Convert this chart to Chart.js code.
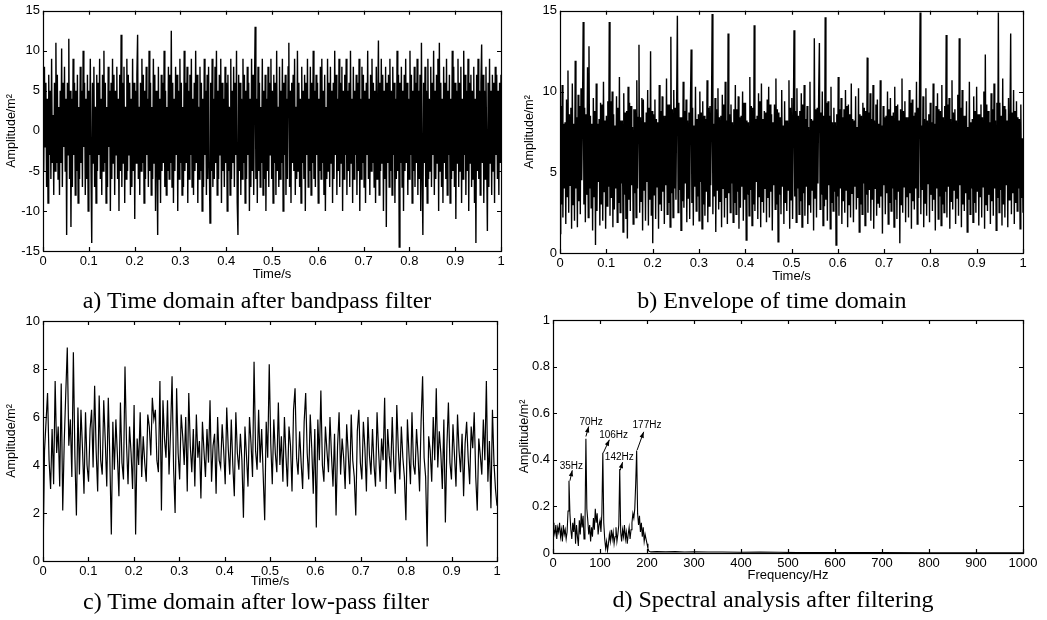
<!DOCTYPE html>
<html>
<head>
<meta charset="utf-8">
<script src="https://cdn.jsdelivr.net/npm/chart.js@4.4.0/dist/chart.umd.min.js"></script>
<style>
  body { margin: 0; background: #fff; }
  #page { position: relative; width: 1047px; height: 620px; overflow: hidden; background: #fff; }
  canvas { position: absolute; }
  .cap { position: absolute; width: 500px; text-align: center; white-space: nowrap;
         font-family: "Liberation Serif", "Times New Roman", serif; font-size: 24px; line-height: 24px; color: #000; }
</style>
</head>
<body>
<div id="page">
  <canvas id="ca" width="520" height="288" style="left:0;top:0"></canvas>
  <canvas id="cb" width="527" height="290" style="left:520px;top:0"></canvas>
  <canvas id="cc" width="520" height="300" style="left:0;top:300px"></canvas>
  <canvas id="cd" width="535" height="300" style="left:512px;top:300px"></canvas>
  <div class="cap" style="left:7px;top:288px">a) Time domain after bandpass filter</div>
  <div class="cap" style="left:522px;top:288px">b) Envelope of time domain</div>
  <div class="cap" style="left:6px;top:589px">c) Time domain after low-pass filter</div>
  <div class="cap" style="left:523px;top:587px">d) Spectral analysis after filtering</div>
</div>
<script>
// ---- data ----
// a) bandpass filtered signal, 0..1 s
const bandpass = [
  3, -5, 8, -2, 6, -7, 4, -9, 7, -3, 5, -6, 9, -4, 2, -8, 6, -5, 11, -4,
  7, -6, 3, -8, 5, -4, 10.3, -7, 6, -2, 8, -5, 4, -13, 6, -3, 11.5, -6, 5, -12,
  4, -7, 9, -3, 6, -8, 5, -5, 7, -9, 3, -6, 8, -4, 5, -7, 10, -2, 6, -8,
  4, -6, 7, -10, 5, -3, 9, -5, -14, 6, -4, 8, -7, 3, -9, 7, -5, 6, -3, 9,
  -6, 4, -8, 7, -5, 10, -4, 6, -9, 3, -7, 8, -2, 5, -10, 6, -6, 9, -4, 7,
  -8, 5, -3, 8, -6, 4, -10, 7, -5, 12, -7, 6, -4, 8, -9, 3, -6, 9, -5, 7,
  -3, 6, -8, 4, -7, 9, -5, 6, -11, 5, -4, 7, 12, -6, 3, -8, 6, -5, 9, -4,
  7, -9, 5, -6, 8, -3, 4, -7, 10, -5, 6, -8, 3, -6, 9, -4, 7, -10, 5, -3,
  -13, 8, -6, 4, -9, 7, -5, 6, -4, 10, -7, 5, -8, 3, -5, 8, -6, 7, -4, 12.5,
  -7, 6, -9, 4, -5, 8, -3, 7, -10, 5, -6, 9, -4, 6, -8, 3, -7, 10, -5, 6,
  -4, 8, -9, 5, -6, 7, -3, 9, -7, 4, -8, 6, -5, 10, -4, 7, -9, 3, -6, 8,
  -5, 6, -10, 4, -7, 9, -3, 5, -8, 7, -6, 8, -4, -11.5, 6, -5, 9, -7, 4, -6,
  8, -4, 10, -8, 5, -6, 7, -3, 9, -9, 6, -5, 4, -7, 8, -4, 6, -10, 7, -5,
  3, -8, 9, -6, 5, -4, 8, -7, 6, -3, 10, -9, -13, 7, -5, 6, -8, 4, -6, 9,
  -4, 7, -9, 5, -6, 8, -3, 6, -10, 4, -7, 9, -5, 7, -8, 5, 13, -6, 4, -9,
  8, -5, 6, -7, 3, -4, 9, -8, 5, -6, 7, -10, 4, -5, 8, -7, 6, -3, 9, -6,
  5, -9, 7, -4, 6, -8, 10, -5, 3, -7, 8, -6, 5, -4, 9, -10, 6, -3, 7, -8,
  4, -6, 8, 11, -7, 5, -9, 6, -4, 7, -5, 9, -8, 3, -6, 10, -5, 6, -7, 4,
  -9, 8, -4, 5, -6, 7, -10, 6, -3, 9, -7, 4, -5, 8, -8, 6, -4, 10, -6, 5,
  -7, 7, -3, 6, -9, 4, -5, 8, -6, 9, -4, 5, -8, 7, -10, 3, -6, 9, -5, 6,
  -7, 8, -4, 5, -9, 6, -6, 10, -3, 7, -8, 4, -5, 9, -7, 6, -4, 8, -10, 5,
  -6, 7, -3, 9, -8, 5, -5, 6, -7, 10, -4, 4, -9, 8, -6, 5, -3, 7, -8, 6,
  -5, 9, -10, 4, -6, 8, -4, 7, -7, 5, -9, 6, -3, 10, -6, 4, -8, 7, -5, 9,
  -4, 6, -7, 5, -9, 8, -6, 3, 11.3, -8, 6, -5, 9, -4, 7, -10, 5, -6, 8, -12,
  6, -4, 7, -7, 9, -5, 5, -8, 8, -3, 6, -9, 4, -6, 10, -5, 7, -14.5, 6, -4,
  8, -7, 5, -10, 7, -5, 9, -4, 6, -8, 4, -6, 10, -3, 7, -9, 5, -5, 8, -7,
  6, -4, 9, -8, 5, -6, 7, -10, 11, -5, -13, 6, -4, 8, -7, 5, -9, 9, -6, 4,
  -5, 8, -7, 6, -3, 10, -8, 5, -6, 7, -4, 9, -10, 11, -5, 6, -7, 4, -9, 8,
  -4, 6, -6, 9, -8, 5, -3, 7, -9, 4, -6, 10, -5, 8, -7, 6, -11, 5, -4, 9,
  -7, 6, -5, 8, -9, 4, -6, 10, -3, 7, -8, 5, -5, 9, -10, 6, -4, 7, -7, 5,
  -6, 8, -9, 4, -14, 7, -5, 9, -6, 5, -8, 6, 10.8, -4, 7, -9, 5, -6, 8, -3,
  -12.5, 6, -7, 9, -4, 5, -8, 7, -5, 6, -9, 8, -3, 7, -6, 5, -8, 6, -4, 7
];

// b) envelope of a)
const envelope = [
  1.2, 9.1, 3, 10.4, 2.2, 8, 4, 8.1, 1.8, 9.5, 3.5, 11.3, 2.5, 8.6, 4.2, 9, 1.5, 10.5, 3, 8,
  2, 11.9, 4, 8.4, 1.6, 9.8, 3.2, 9.1, 2.4, 10.2, 4.5, 8.3, 14.3, 3, 9, 1.9, 8.6, 3.6, 11.5, 2.2,
  12.8, 4, 8.5, 2.8, 8, 1.4, 9.6, 3.5, 8.8, 0.5, 10.5, 2.6, 8, 4.4, 8.3, 1.7, 9.3, 3, 9.2, 2,
  10.6, 3.8, 8.2, 1.5, 8.5, 2.9, 9.4, 4.1, 14.3, 2.3, 9.4, 3.4, 10, 1.6, 8.6, 2.7, 7.9, 4, 9.7, 1.9,
  9, 3.1, 10.9, 2.5, 8.2, 4.3, 8.2, 1.3, 9.9, 3.6, 8.7, 2.1, 8.8, 0.9, 10.3, 3.3, 9.3, 2.6, 9.1, 4.2,
  7.8, 1.8, 8.9, 3.7, 8.9, 2.2, 10.7, 4, 8.4, 12.9, 2.5, 8.4, 3.2, 9.6, 1.4, 9.5, 3.9, 8.1, 2, 8.7,
  4.4, 10.1, 1.7, 9, 3.3, 12.5, 2.3, 8.8, 0.6, 8.6, 3.6, 9.5, 2.1, 8.3, 4.1, 8.1, 1.5, 10.4, 3, 8.8,
  2.6, 9.7, 3.8, 8.5, 1.8, 8.5, 4.2, 10.8, 2.4, 9.2, 3.1, 9.2, 1.6, 13.4, 3.7, 8.9, 2.2, 10.1, 4, 9,
  3.3, 9.4, 14.7, 2.5, 9.3, 3.9, 8.4, 1.4, 8.4, 3.2, 10.6, 2.8, 8.8, 4.3, 9.5, 1.9, 8.2, 3.4, 8.7, 2.1,
  9.1, 12.6, 3.1, 9, 1.7, 7.9, 4.1, 10.3, 2.6, 8.3, 3.5, 8.6, 2, 10, 4.4, 8.7, 1.5, 9.4, 3, 8.5,
  2.3, 8.3, 3.8, 10.7, 1.9, 9, 2.9, 9.1, 4.2, 8.2, 14.8, 2.4, 8, 3.5, 9.6, 1.3, 8.9, 3.9, 10.2, 2.7,
  8.4, 3.2, 8.5, 1.6, 9.8, 4, 9.2, 2.2, 10.6, 3.4, 8.2, 1.8, 13.6, 3.7, 8.6, 2.5, 9.2, 4.3, 8.1, 1.9,
  8.9, 3.1, 10.4, 2.4, 8.9, 3.8, 9.7, 1.5, 8.4, 2.8, 8.5, 4.1, 10, 2, 9.3, 3.3, 9.3, 0.8, 8.2, 3.6,
  8.1, 2.3, 10.9, 3.9, 9.1, 1.7, 9, 3, 14.1, 2.6, 8.3, 4.4, 8.5, 2.1, 9.9, 3.5, 9.4, 1.6, 10.5, 3.2,
  8.3, 2.5, 8.8, 4, 8.7, 1.9, 9.5, 3.4, 10.3, 2.2, 9.2, 3.8, 8.6, 1.4, 8.1, 4.2, 9.2, 2.7, 10.8, 3,
  8.9, 0.7, 8.7, 3.6, 8.4, 2.4, 10.1, 4.1, 7.9, 1.8, 9.4, 3.1, 8.2, 2.6, 8.2, 3.9, 10.7, 1.5, 9, 3.3,
  9.6, 2.1, 8, 13.8, 3.5, 8.8, 1.9, 10.2, 4, 8.5, 2.4, 8.8, 3.2, 9.9, 1.6, 9.2, 3.7, 10.4, 2.3, 8.3,
  4.1, 9.1, 1.8, 7.8, 3, 10.6, 2.5, 8.3, 3.9, 8.2, 1.4, 13.3, 3.4, 8.9, 2.2, 9, 4.3, 9.8, 13, 2.7,
  8.7, 3.6, 10, 1.7, 8.5, 2.9, 14.6, 3.3, 9.3, 2, 9.4, 4.2, 8.5, 1.5, 10.3, 3.1, 8.1, 2.6, 9, 3.8,
  8.1, 0.5, 8.6, 3.5, 10.9, 2.3, 8.9, 4, 9.6, 1.8, 8.4, 3.2, 8.9, 2.5, 10.1, 3.9, 9.1, 1.6, 9.2, 3,
  8.6, 2.2, 10.5, 3.7, 8.3, 1.9, 8.2, 4.1, 9.7, 2.7, 7.8, 3.4, 10.2, 1.3, 8.6, 3, 8.5, 2.4, 9.3, 4.3,
  9, 1.7, 8.8, 3.6, 12.1, 2.5, 8.7, 3.9, 9.9, 2, 8.3, 3.3, 10.4, 1.5, 8.2, 4, 9.2, 2.3, 9.5, 3.1,
  8, 2.8, 10.7, 3.5, 7.9, 1.2, 9.1, 4.2, 8.4, 2.4, 8.5, 3.7, 10, 1.8, 8.9, 3.1, 9.6, 2.6, 8.5, 4,
  8.7, 1.6, 10.3, 3.3, 9.1, 2.1, 9.2, 3.8, 8.2, 0.6, 8.9, 3, 10.8, 2.5, 8.8, 4.1, 9.4, 1.9, 8.4, 3.5,
  8.4, 2.2, 10.1, 3.7, 9.3, 1.5, 9.5, 3.2, 8.5, 2.7, 8.7, 4, 10.6, 1.8, 9, 3.4, 9, 14.9, 2.4, 7.9,
  3.9, 9.7, 1.6, 8.3, 3.1, 10.2, 2.3, 8.2, 4.3, 8.6, 1.9, 9.3, 3.6, 8.1, 2.6, 10.5, 3.3, 8, 1.4, 9.1,
  4, 9.9, 2.1, 8.9, 3.5, 8.8, 1.7, 10.4, 3, 8.4, 2.5, 9.1, 3.8, 13.5, 2.2, 9.2, 4.1, 9.6, 1.5, 8.3,
  3.2, 10.7, 2.7, 8.7, 3.9, 8.9, 1.8, 8.2, 3.4, 9.8, 2.3, 13.3, 4.2, 9, 1.6, 10.1, 3, 8.5, 2.6, 8.5,
  3.7, 9.4, 1.3, 7.8, 3.3, 10.6, 2.4, 8.1, 4, 8.3, 1.9, 9.7, 3.1, 8.8, 2.5, 10.3, 3.8, 8.6, 1.7, 8.6,
  3.5, 9.2, 2.2, 8.4, 4.1, 10, 1.5, 12.3, 3, 9.2, 2.6, 8.8, 3.6, 8.1, 1.8, 9.9, 3.2, 8.9, 2.3, 10.5,
  4, 8.2, 1.4, 9.3, 3.4, 14.9, 2.5, 9.3, 3.9, 8.5, 1.7, 10.8, 3, 9.1, 2.2, 8.9, 4.2, 8.2, 1.6, 9.6,
  3.3, 7.9, 13.6, 2.4, 8.7, 3.7, 10.1, 1.8, 8.8, 3.1, 9.4, 2.6, 8.4, 4, 8.3, 1.5, 9.2, 3.4, 7.1, 2.5
];

// c) low-pass filtered envelope
const lowpass = [
  0, 4.6, 5.8, 7.0, 4.2, 3.0, 5.5, 3.2, 7.5, 4.5, 5.6, 3.1, 7.4, 2.1, 5.0, 7.0, 8.9, 4.8, 5.9, 3.5,
  8.7, 4.4, 1.9, 6.4, 3.6, 6.3, 4.7, 2.8, 6.2, 4.0, 3.3, 5.5, 6.3, 3.9, 7.3, 4.6, 2.9, 6.9, 4.2, 3.6,
  6.7, 5.0, 3.1, 6.8, 4.3, 1.1, 5.8, 3.8, 5.9, 4.4, 2.7, 6.6, 4.1, 3.4, 8.1, 4.9, 3.2, 5.6, 4.5, 3.0,
  6.5, 1.1, 5.1, 4.0, 6.2, 3.5, 5.2, 4.1, 3.3, 6.1, 5.6, 4.4, 6.8, 5.9, 6.3, 4.2, 3.7, 7.5, 2.1, 6.7,
  5.1, 4.3, 6.7, 3.6, 5.4, 7.7, 3.9, 2.0, 7.2, 4.5, 3.4, 6.1, 5.2, 4.0, 6.0, 2.9, 7.0, 4.8, 3.7, 5.5,
  3.1, 6.1, 4.3, 5.0, 2.6, 5.8, 4.6, 3.5, 5.5, 4.1, 6.7, 3.3, 4.8, 5.3, 2.8, 6.0, 4.2, 3.9, 5.7, 4.6,
  3.2, 6.4, 4.7, 3.6, 5.9, 4.0, 2.7, 6.2, 4.5, 3.8, 5.3, 4.2, 1.8, 5.6, 4.4, 3.1, 6.0, 4.9, 3.5, 8.3,
  4.6, 3.8, 6.3, 4.1, 5.5, 3.6, 1.7, 5.8, 4.3, 8.2, 4.9, 3.2, 5.9, 4.5, 3.7, 6.6, 4.0, 5.2, 3.3, 6.0,
  4.4, 3.1, 5.6, 4.8, 2.9, 6.3, 7.2, 4.3, 3.6, 5.4, 4.1, 3.0, 5.8, 7.0, 4.5, 3.4, 6.1, 4.7, 2.8, 5.5,
  1.4, 5.9, 4.2, 7.1, 4.0, 3.3, 5.6, 4.6, 3.7, 6.0, 4.4, 3.1, 5.3, 1.9, 4.8, 6.2, 3.6, 5.1, 4.3, 3.0,
  5.7, 4.5, 3.2, 6.1, 4.2, 3.5, 1.9, 5.4, 6.3, 4.1, 3.4, 5.8, 4.7, 2.9, 6.0, 4.4, 3.6, 5.5, 4.0, 3.1,
  6.2, 4.6, 3.3, 5.1, 4.2, 6.8, 3.0, 5.5, 4.4, 3.7, 6.0, 4.1, 2.8, 6.5, 4.7, 3.4, 5.6, 4.3, 3.5, 1.7,
  5.9, 4.5, 3.2, 6.2, 4.0, 3.6, 5.5, 4.4, 2.9, 5.8, 7.7, 4.3, 3.5, 0.6, 5.2, 4.6, 3.3, 6.0, 4.2, 7.2,
  3.9, 5.4, 4.5, 3.0, 5.9, 1.6, 4.8, 6.6, 4.1, 3.4, 5.7, 4.4, 3.1, 6.1, 4.6, 3.7, 5.3, 2.7, 4.9, 5.8,
  4.3, 3.2, 5.6, 4.7, 6.2, 3.5, 2.1, 5.1, 4.4, 3.6, 5.9, 4.2, 7.5, 3.3, 5.0, 2.2, 6.3, 4.1, 3.0, 2.3
];

// d) spectrum, bins every 2 Hz from 0 to 210 Hz
const binWidth = 2;
const spectrum = [
  0.13, 0.10, 0.08, 0.12, 0.06, 0.11, 0.09, 0.13, 0.07, 0.10,
  0.05, 0.12, 0.08, 0.10, 0.06, 0.09, 0.18, 0.31, 0.17, 0.10,
  0.06, 0.13, 0.09, 0.15, 0.04, 0.12, 0.07, 0.03, 0.14, 0.08,
  0.17, 0.11, 0.16, 0.06, 0.10, 0.49, 0.19, 0.14, 0.08, 0.12,
  0.05, 0.11, 0.07, 0.15, 0.10, 0.19, 0.13, 0.17, 0.08, 0.12,
  0.14, 0.09, 0.17, 0.43, 0.13, 0.06, 0.02, 0.05, 0.01, 0.04,
  0.08, 0.05, 0.10, 0.06, 0.09, 0.04, 0.07, 0.11, 0.05, 0.08,
  0.12, 0.36, 0.09, 0.05, 0.10, 0.07, 0.12, 0.06, 0.09, 0.04,
  0.08, 0.11, 0.06, 0.10, 0.13, 0.17, 0.15, 0.19, 0.30, 0.44,
  0.17, 0.12, 0.16, 0.09, 0.13, 0.07, 0.11, 0.05, 0.08, 0.06,
  0.04, 0.02, 0.008, 0.006, 0.005, 0.005
];
// flat tail above the cut-off
const tailFreq = [220, 240, 260, 280, 300, 330, 360, 400, 440, 480, 520, 600, 700, 800, 900, 1000];
const tailAmp  = [0.006, 0.005, 0.006, 0.004, 0.005, 0.004, 0.004, 0.003, 0.004, 0.003, 0.002, 0.002, 0.002, 0.001, 0.001, 0.001];

// peak labels: text position and arrow (from, to), in Hz / amplitude
const peakLabels = ["35Hz", "70Hz", "106Hz", "142Hz", "177Hz"];
const labelFreq  = [39, 81, 129, 141, 200];
const labelAmp   = [0.374, 0.562, 0.507, 0.41, 0.548];
const arrowFrom  = [[36, 0.31], [70, 0.50], [107, 0.43], [143, 0.355], [179, 0.442]];
const arrowTo    = [[41, 0.355], [76, 0.543], [120, 0.486], [148, 0.39], [193, 0.52]];

const yTitle = "Amplitude/m\u00B2";

// ---- drawing ----
Chart.defaults.font.family = '"Liberation Sans", Arial, sans-serif';
Chart.defaults.color = '#000';

// MATLAB style box with inward ticks on all four sides
const boxPlugin = {
  id: 'box',
  afterDatasetsDraw(chart) {
    const { ctx, chartArea: { left, top, right, bottom }, scales: { x, y } } = chart;
    ctx.save();
    ctx.strokeStyle = '#000';
    ctx.lineWidth = 1.2;
    ctx.strokeRect(Math.round(left) + 0.5, Math.round(top) + 0.5, Math.round(right - left), Math.round(bottom - top));
    ctx.beginPath();
    x.ticks.forEach(t => {
      const px = Math.round(x.getPixelForValue(t.value)) + 0.5;
      ctx.moveTo(px, bottom); ctx.lineTo(px, bottom - 4);
      ctx.moveTo(px, top); ctx.lineTo(px, top + 4);
    });
    y.ticks.forEach(t => {
      const py = Math.round(y.getPixelForValue(t.value)) + 0.5;
      ctx.moveTo(left, py); ctx.lineTo(left + 4, py);
      ctx.moveTo(right, py); ctx.lineTo(right - 4, py);
    });
    ctx.stroke();
    ctx.restore();
  }
};

const peakPlugin = {
  id: 'peaks',
  afterDatasetsDraw(chart) {
    if (chart.canvas.id !== 'cd') return;
    const { ctx, scales: { x, y } } = chart;
    ctx.save();
    ctx.fillStyle = '#000';
    ctx.strokeStyle = '#000';
    ctx.lineWidth = 1;
    ctx.font = '10px "Liberation Sans", Arial, sans-serif';
    ctx.textAlign = 'center';
    ctx.textBaseline = 'middle';
    peakLabels.forEach((lab, i) => {
      ctx.fillText(lab, x.getPixelForValue(labelFreq[i]), y.getPixelForValue(labelAmp[i]));
      const x1 = x.getPixelForValue(arrowFrom[i][0]), y1 = y.getPixelForValue(arrowFrom[i][1]);
      const x2 = x.getPixelForValue(arrowTo[i][0]), y2 = y.getPixelForValue(arrowTo[i][1]);
      ctx.beginPath(); ctx.moveTo(x1, y1); ctx.lineTo(x2, y2); ctx.stroke();
      const a = Math.atan2(y2 - y1, x2 - x1);
      ctx.beginPath();
      ctx.moveTo(x2, y2);
      ctx.lineTo(x2 - 6 * Math.cos(a) + 2.2 * Math.sin(a), y2 - 6 * Math.sin(a) - 2.2 * Math.cos(a));
      ctx.lineTo(x2 - 6 * Math.cos(a) - 2.2 * Math.sin(a), y2 - 6 * Math.sin(a) + 2.2 * Math.cos(a));
      ctx.closePath(); ctx.fill();
    });
    ctx.restore();
  }
};

const fmt = v => String(+(+v).toFixed(2));

function samples(vals, t0, t1) {
  return vals.map((v, i) => ({ x: t0 + (t1 - t0) * i / (vals.length - 1), y: v }));
}

function panel(id, points, o) {
  return new Chart(document.getElementById(id), {
    type: 'line',
    data: { datasets: [{ data: points, borderColor: '#000', borderWidth: o.lw, pointRadius: 0, tension: 0, fill: false }] },
    options: {
      responsive: false, animation: false, devicePixelRatio: 1,
      layout: { padding: { left: 0, top: o.padTop, right: o.padRight, bottom: 0 } },
      plugins: { legend: { display: false }, tooltip: { enabled: false } },
      scales: {
        x: {
          type: 'linear', min: o.xMin, max: o.xMax,
          afterFit: s => { s.height = o.xHeight; },
          grid: { display: false, drawTicks: false }, border: { display: false },
          ticks: { stepSize: o.xStep, autoSkip: false, maxRotation: 0, padding: 3, font: { size: 13 }, callback: fmt },
          title: { display: true, text: o.xTitle, font: { size: 13 }, padding: { top: 0, bottom: o.xTitlePad } }
        },
        y: {
          type: 'linear', min: o.yMin, max: o.yMax,
          afterFit: s => { s.width = o.yWidth; },
          grid: { display: false, drawTicks: false }, border: { display: false },
          ticks: { stepSize: o.yStep, padding: 3, font: { size: 13 }, callback: fmt },
          title: { display: true, text: yTitle, font: { size: 12.5 }, padding: { top: o.yTitlePad, bottom: 0 } }
        }
      }
    },
    plugins: [boxPlugin, peakPlugin]
  });
}

const specPoints = spectrum.map((v, i) => ({ x: i * binWidth, y: v }))
  .concat(tailFreq.map((f, i) => ({ x: f, y: tailAmp[i] })));

panel('ca', samples(bandpass, 0, 1), { lw: 1.4, padTop: 10, padRight: 19, xHeight: 37, yWidth: 43, xMin: 0, xMax: 1, xStep: 0.1, yMin: -15, yMax: 15, yStep: 5, xTitle: 'Time/s', xTitlePad: 6, yTitlePad: 4.5 });
panel('cb', samples(envelope, 0, 1), { lw: 1.4, padTop: 10, padRight: 24, xHeight: 37, yWidth: 40, xMin: 0, xMax: 1, xStep: 0.1, yMin: 0, yMax: 15, yStep: 5, xTitle: 'Time/s', xTitlePad: 6, yTitlePad: 2.5 });
panel('cc', samples(lowpass, 0, 1), { lw: 1.2, padTop: 21, padRight: 23, xHeight: 39, yWidth: 43, xMin: 0, xMax: 1, xStep: 0.1, yMin: 0, yMax: 10, yStep: 2, xTitle: 'Time/s', xTitlePad: 11, yTitlePad: 4.5 });
panel('cd', specPoints, { lw: 1.1, padTop: 20, padRight: 24, xHeight: 47, yWidth: 41, xMin: 0, xMax: 1000, xStep: 100, yMin: 0, yMax: 1, yStep: 0.2, xTitle: 'Frequency/Hz', xTitlePad: 17, yTitlePad: 5 });
</script>
</body>
</html>
